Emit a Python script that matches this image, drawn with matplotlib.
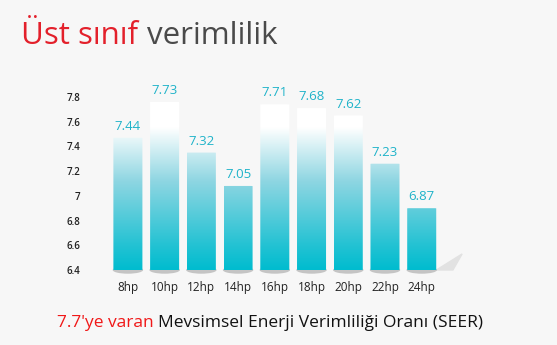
import matplotlib.pyplot as plt
import numpy as np
from matplotlib.patches import Ellipse, FancyBboxPatch
from matplotlib.colors import LinearSegmentedColormap

# data
models = ['8hp', '10hp', '12hp', '14hp', '16hp', '18hp', '20hp', '22hp', '24hp']
seer = [7.44, 7.73, 7.32, 7.05, 7.71, 7.68, 7.62, 7.23, 6.87]
yticks = [6.4, 6.6, 6.8, 7, 7.2, 7.4, 7.6, 7.8]
ytick_labels = ['6.4', '6.6', '6.8', '7', '7.2', '7.4', '7.6', '7.8']

bg = '#f7f7f7'
teal = '#00bccf'
label_col = '#1fb3c9'

fig = plt.figure(figsize=(5.57, 3.45), dpi=100, facecolor=bg)
ax = fig.add_axes([0.1795, 0.2174, 0.664, 0.5374])
ax.set_facecolor(bg)

x = np.arange(len(models))

# gradient: teal at 6.4, white from ~7.55 upward
cmap = LinearSegmentedColormap.from_list(
    'bar', [(0, teal), (0.12, '#22c2d3'), (0.45, '#8fd6e2'), (0.72, '#ffffff'), (1, '#ffffff')])
grad = np.linspace(0, 1, 256).reshape(-1, 1)

bw = 0.79
for i, v in enumerate(seer):
    sh = Ellipse((x[i], 6.4), bw * 1.05, 0.06, facecolor='#9a9a9a', alpha=0.55,
                 edgecolor='none', clip_on=False, zorder=1)
    ax.add_patch(sh)
    top = v + 0.03
    rect = FancyBboxPatch((x[i] - bw / 2, 6.4), bw, top - 6.4,
                          boxstyle='round,pad=0,rounding_size=0.05',
                          mutation_aspect=0.03,
                          facecolor='none', edgecolor='none', zorder=2)
    ax.add_patch(rect)
    im = ax.imshow(grad, extent=(x[i] - bw / 2, x[i] + bw / 2, 6.4, 8.0),
                   origin='lower', cmap=cmap, aspect='auto', zorder=2)
    im.set_clip_path(rect)
    ax.text(x[i], top + 0.04, f'{v:.2f}', ha='center', va='bottom',
            fontsize=9.5, color=label_col, family='Open Sans')

ax.set_xlim(-0.76, 9.31)
ax.set_ylim(6.4, 7.9)

# floor shadow to the right
ax.fill([8.4, 9.1, 8.85, 8.4], [6.4, 6.53, 6.4, 6.4], color='#e2e2e2', zorder=0,
        clip_on=False)

ax.set_xticks(x)
ax.set_xticklabels(models, fontsize=8.5, color='#222222', family='Open Sans',
                   fontweight='medium')
ax.set_yticks(yticks)
ax.set_yticklabels(ytick_labels, fontsize=7, color='#222222', family='Open Sans',
                   fontweight='semibold')
ax.tick_params(length=0)
ax.tick_params(axis='y', pad=14)
ax.tick_params(axis='x', pad=8)
for s in ax.spines.values():
    s.set_visible(False)

# title
t1 = fig.text(0.038, 0.895, 'Üst sınıf', fontsize=22.5, color='#e3202b',
              family='Open Sans', fontweight='medium', va='center', ha='left')
fig.canvas.draw()
bb = t1.get_window_extent()
fig.text(bb.x1 / fig.bbox.width + 0.016, 0.895, 'verimlilik', fontsize=22.5,
         color='#4a4a4a', family='Open Sans', fontweight='medium',
         va='center', ha='left')

# footer
f1 = fig.text(0.102, 0.064, "7.7'ye varan", fontsize=12.5, color='#f01818',
              family='Open Sans', fontweight='medium', va='center', ha='left')
fig.canvas.draw()
bb = f1.get_window_extent()
fig.text(bb.x1 / fig.bbox.width + 0.009, 0.064,
         'Mevsimsel Enerji Verimliliği Oranı (SEER)', fontsize=12.5,
         color='#111111', family='Open Sans', fontweight='medium',
         va='center', ha='left')

fig.savefig('out.png', dpi=100, facecolor=bg)
